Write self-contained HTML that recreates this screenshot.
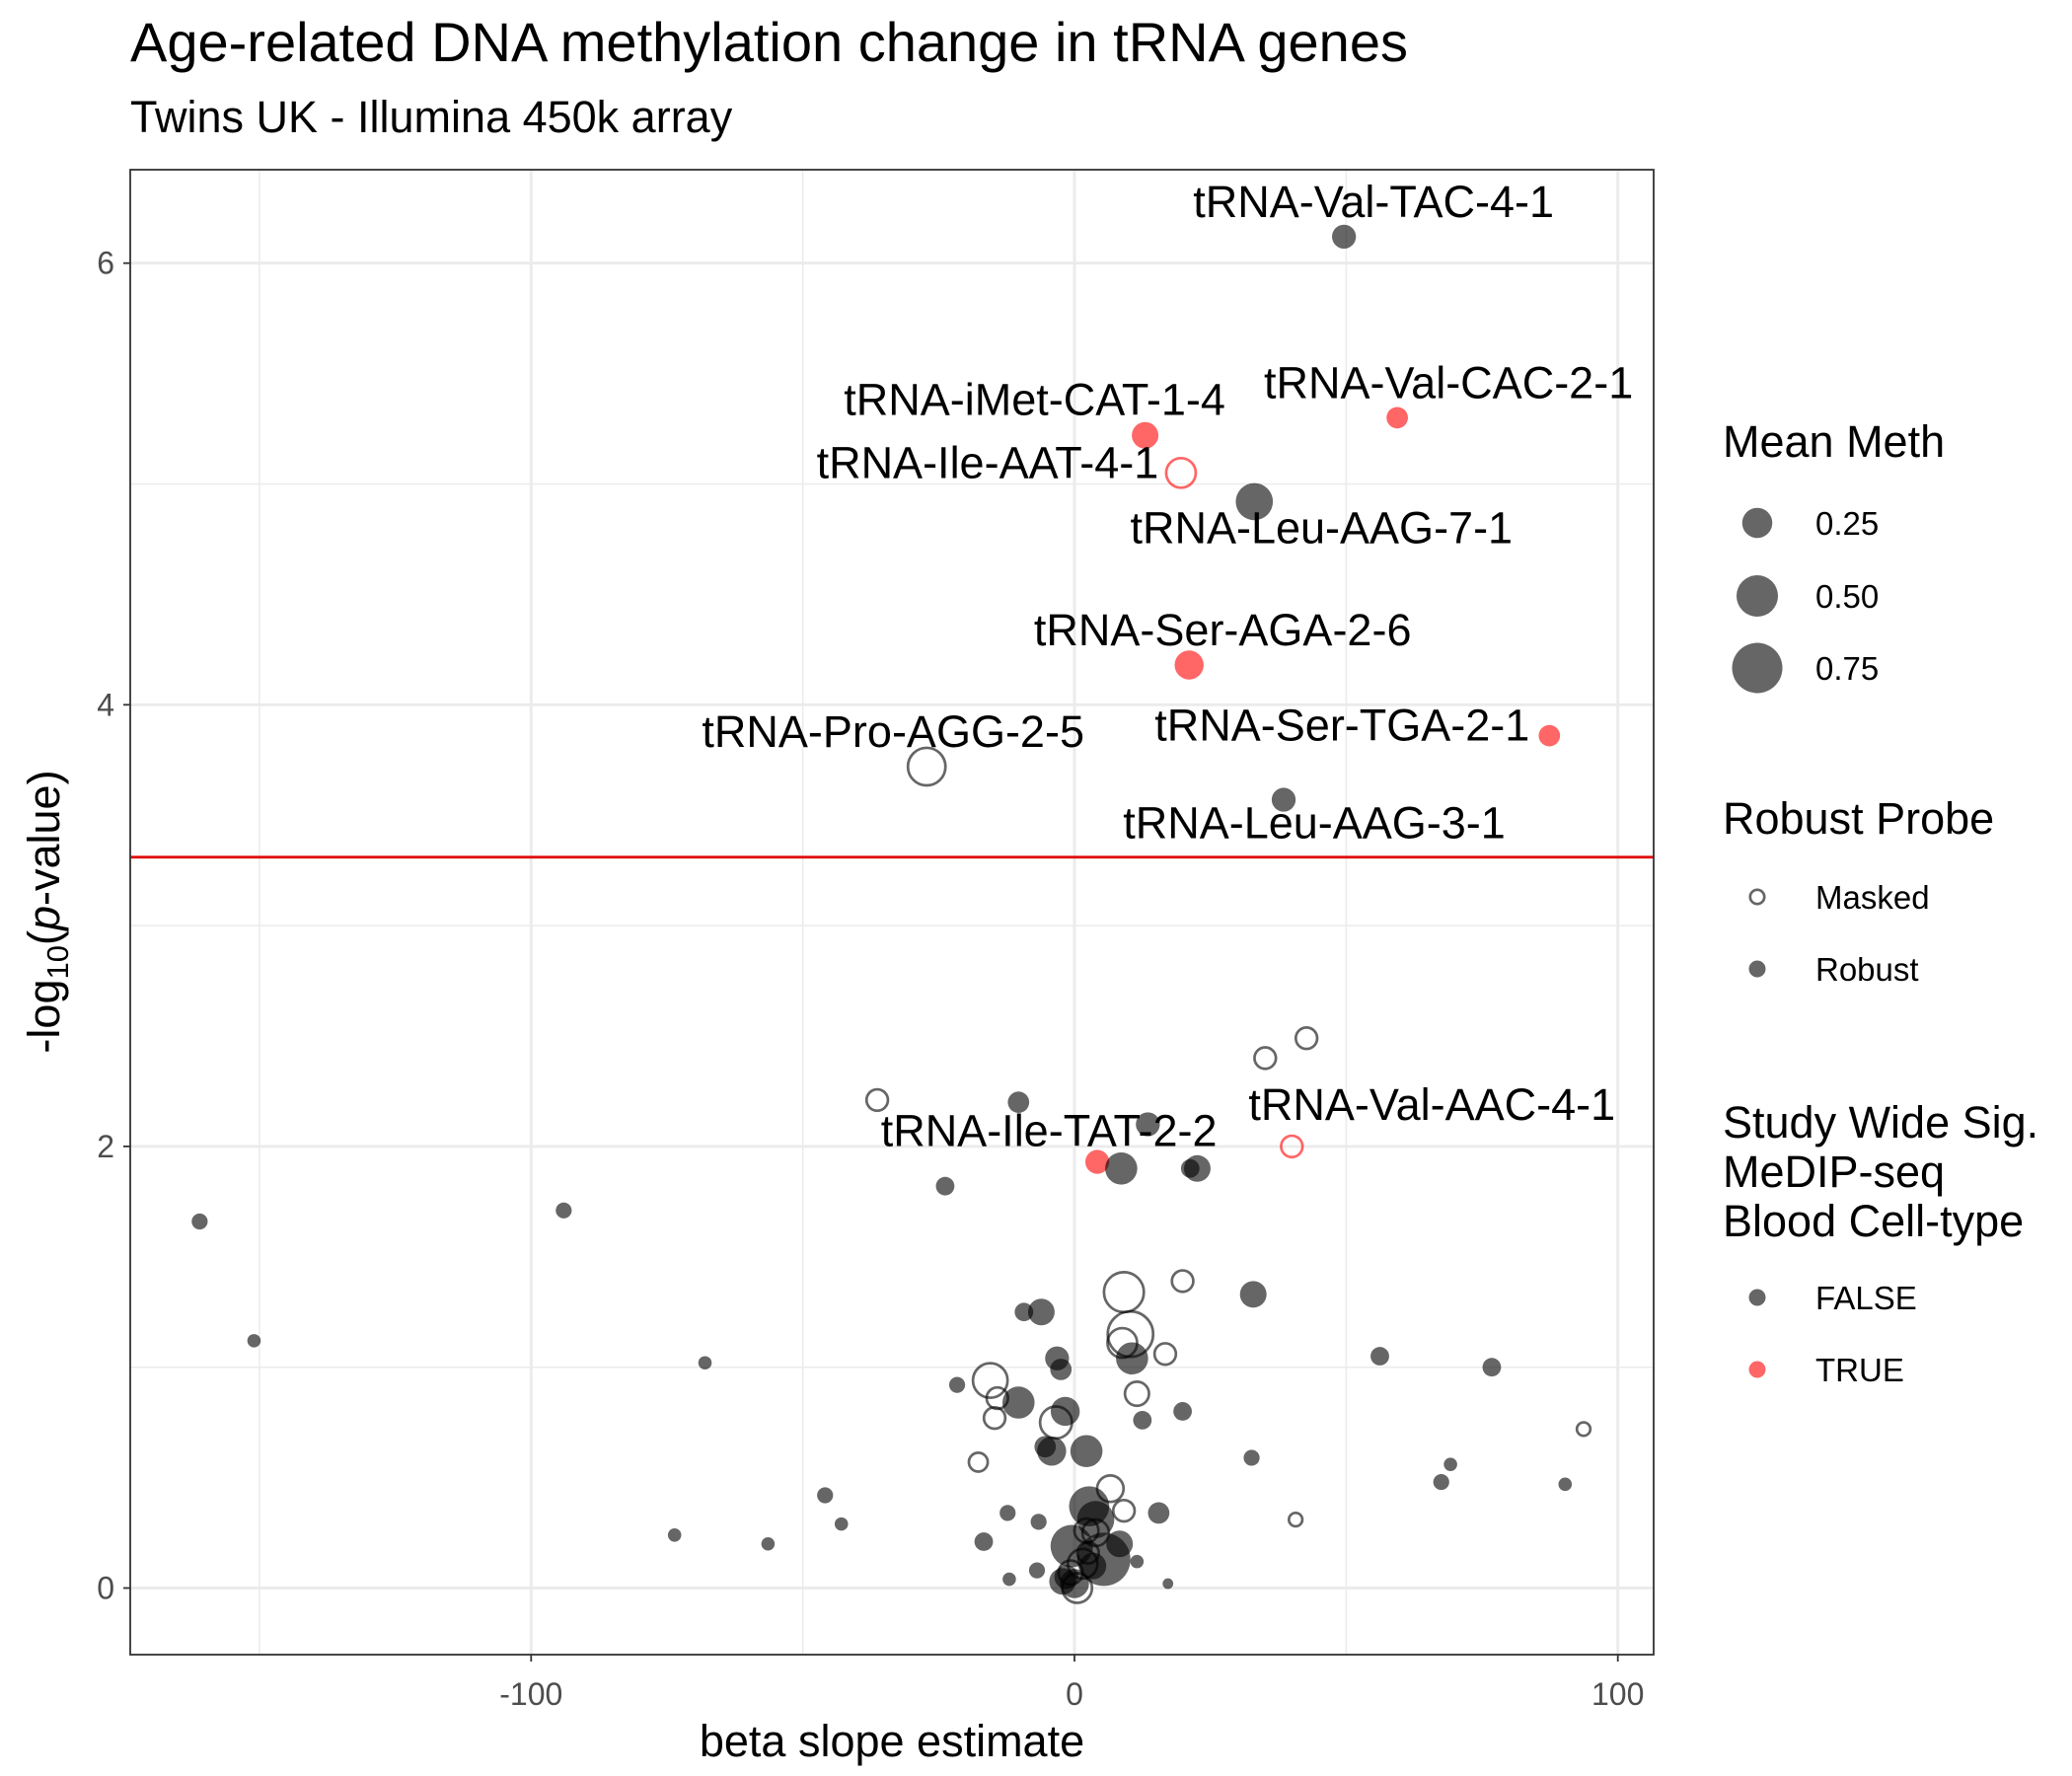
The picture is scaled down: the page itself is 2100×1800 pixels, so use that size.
<!DOCTYPE html>
<html><head><meta charset="utf-8"><style>
html,body{margin:0;padding:0;background:#fff;}
svg{display:block;font-family:"Liberation Sans",Arial,sans-serif;}
</style></head><body>
<svg id="chart" width="2100" height="1800" viewBox="0 0 2100 1800" xmlns="http://www.w3.org/2000/svg">
<text x="132" y="62" font-size="56" fill="#000">Age-related DNA methylation change in tRNA genes</text>
<text x="132" y="134" font-size="45" fill="#000">Twins UK - Illumina 450k array</text>
<g id="grid"></g>
<g id="marks"></g>
<g id="labels"></g>
<rect x="132" y="172" width="1544" height="1505" fill="none" stroke="#333" stroke-width="1.8"/>
<g id="axes"></g>
<text x="904" y="1780" font-size="45" text-anchor="middle">beta slope estimate</text>
<text transform="translate(60,924) rotate(-90)" font-size="45" text-anchor="middle">-log<tspan font-size="31" dy="9">10</tspan><tspan dy="-9">(</tspan><tspan font-style="italic">p</tspan>-value)</text>
<g id="legend"></g>
</svg>
<script>
const beta = [49.6,59.4,13,19.6,33.1,21.1,87.4,-27.2,38.5,40,4.2,
 42.7,35.1,-36.3,-10.3,13.5,-23.8,8.6,21.3,22.6,-161,-94,-151,-68,19.9,9.1,32.9,10.3,8.8,10.6,16.7,-9.3,-6.1,-3.2,-2.5,56.2,76.8,-15.5,-21.6,-10.3,-14.2,-14.7,11.5,19.9,-1.7,-3.4,12.5,2.2,-4.2,-5.4,-17.7,32.6,93.7,69.2,67.5,90.3,40.7,-45.9,-42.9,-73.6,-56.4,6.6,9.1,15.5,-12.3,-6.6,-16.7,2.7,3.9,-0.5,8.3,5.4,2.2,3.9,11.5,1.5,-6.9,-12,17.2,-1.5,0,0.5,-0.7,-2.2,3.4,2.5];
const logp = [6.12,5.30,5.22,5.05,4.92,4.18,3.86,3.72,3.57,2.0,1.93,
 2.49,2.40,2.21,2.20,2.10,1.82,1.90,1.90,1.90,1.66,1.71,1.12,1.02,1.39,1.34,1.33,1.15,1.11,1.04,1.06,1.25,1.25,1.04,0.99,1.05,1.00,0.94,0.92,0.84,0.86,0.77,0.88,0.80,0.80,0.75,0.76,0.62,0.62,0.64,0.57,0.59,0.72,0.56,0.48,0.47,0.31,0.42,0.29,0.24,0.20,0.45,0.35,0.34,0.34,0.30,0.21,0.37,0.31,0.19,0.20,0.13,0.26,0.25,0.12,0.11,0.08,0.04,0.02,0.05,0.02,0.0,0.07,0.03,0.10,0.16];
const meth = [0.12,0.09,0.155,0.24,0.33,0.19,0.09,0.39,0.12,0.12,0.12,
 0.12,0.12,0.12,0.09,0.12,0.06,0.24,0.06,0.155,0.037,0.037,0.017,0.017,0.12,0.44,0.155,0.57,0.24,0.24,0.12,0.06,0.155,0.12,0.09,0.06,0.06,0.33,0.037,0.24,0.12,0.12,0.155,0.06,0.19,0.28,0.06,0.24,0.19,0.09,0.09,0.037,0.037,0.017,0.037,0.017,0.037,0.037,0.017,0.017,0.017,0.19,0.12,0.09,0.037,0.037,0.06,0.39,0.33,0.44,0.155,0.71,0.155,0.19,0.017,0.24,0.037,0.017,0.0,0.12,0.19,0.24,0.155,0.155,0.155,0.12];
const robust = [1,1,1,0,1,1,1,0,1,0,1,
 0,0,0,1,1,1,1,1,1,1,1,1,1,0,0,1,0,0,1,0,1,1,1,1,1,1,0,1,1,0,0,0,1,1,0,1,1,1,1,0,1,0,1,1,1,0,1,1,1,1,0,0,1,1,1,1,1,1,1,1,1,0,0,1,0,1,1,1,1,1,0,0,1,1,0];
const sig = [0,1,1,1,0,1,1,0,0,1,1,
 0,0,0,0,0,0,0,0,0,0,0,0,0,0,0,0,0,0,0,0,0,0,0,0,0,0,0,0,0,0,0,0,0,0,0,0,0,0,0,0,0,0,0,0,0,0,0,0,0,0,0,0,0,0,0,0,0,0,0,0,0,0,0,0,0,0,0,0,0,0,0,0,0,0,0];
const labelNames = ["tRNA-Val-TAC-4-1","tRNA-Val-CAC-2-1","tRNA-iMet-CAT-1-4","tRNA-Ile-AAT-4-1","tRNA-Leu-AAG-7-1","tRNA-Ser-AGA-2-6","tRNA-Ser-TGA-2-1","tRNA-Pro-AGG-2-5","tRNA-Leu-AAG-3-1","tRNA-Val-AAC-4-1","tRNA-Ile-TAT-2-2"];
const xTicks = [-100,0,100];
const xMinor = [-150,-50,50];
const yTicks = [0,2,4,6];
const yMinor = [1,3,5];
const threshold = 3.31;
const legendSizes = [0.25,0.50,0.75];
// label offsets in pixels (layout, not data)
const labelOff = [[30,-20],[52,-20],[-112,-21],[-196,5],[68,42],[34,-20],[-210,5],[-34,-20],[31,39],[142,-27],[-49,-16]];

const NS="http://www.w3.org/2000/svg";
const X = v => 1089 + v*5.507;
const Y = v => 1609.5 - v*223.8;
const R = m => 1.351*Math.sqrt(16+540*Math.max(0,m));
function mk(tag, attrs, parent){const e=document.createElementNS(NS,tag);for(const k in attrs)e.setAttribute(k,attrs[k]);parent.appendChild(e);return e;}
const grid=document.getElementById('grid'), marks=document.getElementById('marks'), labs=document.getElementById('labels'), axes=document.getElementById('axes'), leg=document.getElementById('legend');

xMinor.forEach(v=>{const l=mk('line',{x1:X(v),x2:X(v),y1:172,y2:1677,stroke:'#ebebeb','stroke-width':1.5},grid);

});
yMinor.forEach(v=>{const l=mk('line',{x1:132,x2:1676,y1:Y(v),y2:Y(v),stroke:'#ebebeb','stroke-width':1.5},grid);

});
xTicks.forEach(v=>{const l=mk('line',{x1:X(v),x2:X(v),y1:172,y2:1677,stroke:'#ebebeb','stroke-width':2.9},grid);


const t=mk('line',{x1:X(v),x2:X(v),y1:1677,y2:1684,stroke:'#333','stroke-width':1.8},axes);


const tx=mk('text',{x:X(v),y:1728,'font-size':32,fill:'#4d4d4d','text-anchor':'middle'},axes);tx.textContent=v;

});
yTicks.forEach(v=>{const l=mk('line',{x1:132,x2:1676,y1:Y(v),y2:Y(v),stroke:'#ebebeb','stroke-width':2.9},grid);


const t=mk('line',{x1:125,x2:132,y1:Y(v),y2:Y(v),stroke:'#333','stroke-width':1.8},axes);


const tx=mk('text',{x:116,y:Y(v)+11,'font-size':32,fill:'#4d4d4d','text-anchor':'end'},axes);tx.textContent=v;

});
const th=mk('line',{x1:132,x2:1676,y1:Y(threshold),y2:Y(threshold),stroke:'#e00000','stroke-width':2.7},grid);



function drawPt(cx,cy,r,rob,s,parent){
  const col = s? '#ff0000':'#000000';
  if(rob) return mk('circle',{cx,cy,r,fill:col,'fill-opacity':0.6},parent);
  return mk('circle',{cx,cy,r:r-1.3,fill:'none',stroke:col,'stroke-opacity':0.6,'stroke-width':2.7},parent);
}
for(let i=0;i<beta.length;i++){
  const c=drawPt(X(beta[i]),Y(logp[i]),R(meth[i]),robust[i],sig[i],marks);
  
  
}
labelNames.forEach((n,i)=>{
  const t=mk('text',{x:X(beta[i])+labelOff[i][0],y:Y(logp[i])+labelOff[i][1],'font-size':45,'text-anchor':'middle',fill:'#000'},labs);
  t.textContent=n;
  
  
});

function ltext(x,y,s,txt,name){const t=mk('text',{x,y,'font-size':s,fill:'#000'},leg);t.textContent=txt;

return t;}
ltext(1746,463,45,'Mean Meth','legend-title-mean-meth');
const sizeY=[530,604,677];
legendSizes.forEach((v,i)=>{const c=drawPt(1781,sizeY[i],R(v)*0.92,1,0,leg);


ltext(1840,sizeY[i]+12,33,v.toFixed(2),'legend-size-label');});
ltext(1746,845,45,'Robust Probe','legend-title-robust-probe');
let c1=drawPt(1781,909,8.5,0,0,leg);


ltext(1840,921,33,'Masked','legend-label-masked');
let c2=drawPt(1781,982,8.5,1,0,leg);


ltext(1840,994,33,'Robust','legend-label-robust');
ltext(1746,1153,45,'Study Wide Sig.','legend-title-sig-1');
ltext(1746,1203,45,'MeDIP-seq','legend-title-sig-2');
ltext(1746,1253,45,'Blood Cell-type','legend-title-sig-3');
let c3=drawPt(1781,1315,8.5,1,0,leg);


ltext(1840,1327,33,'FALSE','legend-label-false');
let c4=drawPt(1781,1388,8.5,1,1,leg);


ltext(1840,1400,33,'TRUE','legend-label-true');
</script>
</body></html>
